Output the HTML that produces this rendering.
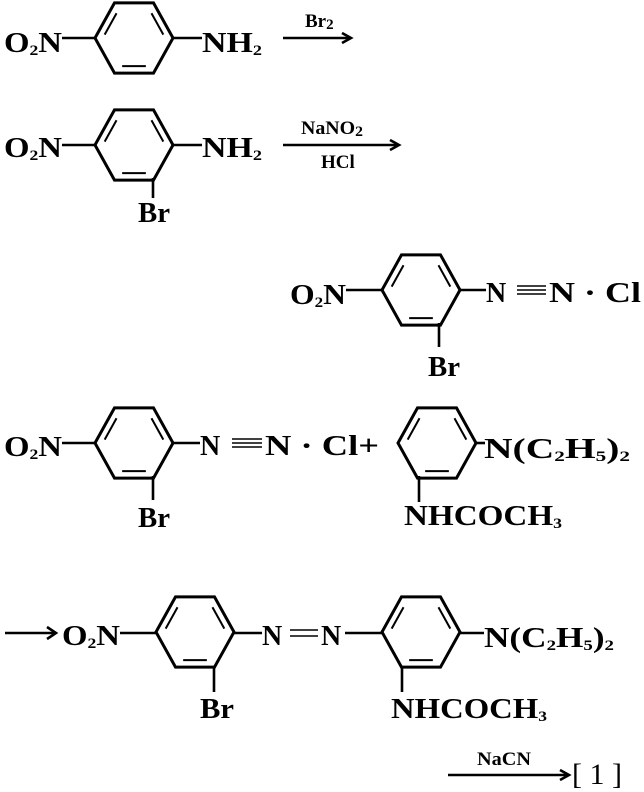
<!DOCTYPE html>
<html><head><meta charset="utf-8"><style>
html,body{margin:0;padding:0;background:#fff;}
svg{display:block;}
text{font-family:"Liberation Serif",serif;font-weight:bold;fill:#000;font-size:28px;}
.s{font-size:15px;}
.m{font-size:19px;}
</style></head><body>
<svg width="644" height="792" viewBox="0 0 644 792" xmlns="http://www.w3.org/2000/svg" id="sv">
<g stroke="#000" stroke-width="3" fill="none" id="rings"></g>
<g stroke="#000" stroke-width="2.6" fill="none">
<line x1="62" y1="38" x2="96" y2="38"/><line x1="172" y1="38" x2="202" y2="38"/>
<line x1="283" y1="38" x2="350" y2="38"/><polyline points="342,33 351,38 342,43"/>
<line x1="62" y1="145" x2="96" y2="145"/><line x1="172" y1="145" x2="202" y2="145"/>
<line x1="153" y1="178" x2="153" y2="198"/>
<line x1="283" y1="145" x2="398" y2="145"/><polyline points="390,140 399,145 390,150"/>
<line x1="346" y1="290" x2="382" y2="290"/><line x1="460" y1="290" x2="486" y2="290"/>
<line x1="439" y1="323" x2="439" y2="347"/>
<line x1="62" y1="443" x2="96" y2="443"/><line x1="172" y1="443" x2="200" y2="443"/>
<line x1="153" y1="476" x2="153" y2="500"/>
<line x1="476" y1="443" x2="485" y2="443"/>
<line x1="419" y1="476" x2="419" y2="502"/>
<line x1="5" y1="633" x2="55" y2="633"/><polyline points="47,627 56,633 47,639"/>
<line x1="120" y1="633" x2="156" y2="633"/><line x1="234" y1="633" x2="262" y2="633"/>
<line x1="345" y1="633" x2="383" y2="633"/><line x1="460" y1="633" x2="484" y2="633"/>
<line x1="214" y1="666" x2="214" y2="692"/>
<line x1="402" y1="666" x2="402" y2="692"/>
<line x1="448" y1="775" x2="568" y2="775"/><polyline points="560,770 569,775 560,780"/>
</g>
<g stroke="#000" stroke-width="1.6">
<line x1="517" y1="286" x2="546" y2="286"/><line x1="517" y1="290" x2="546" y2="290"/><line x1="517" y1="294" x2="546" y2="294"/>
<line x1="232" y1="439" x2="262" y2="439"/><line x1="232" y1="443" x2="262" y2="443"/><line x1="232" y1="447" x2="262" y2="447"/>
<line x1="290" y1="630" x2="318" y2="630"/><line x1="290" y1="636" x2="318" y2="636"/>
</g>
<text x="4" y="52" textLength="58" lengthAdjust="spacingAndGlyphs">O<tspan class="s" dy="3">2</tspan><tspan dy="-3">N</tspan></text>
<text x="202" y="52" textLength="60" lengthAdjust="spacingAndGlyphs">NH<tspan class="s" dy="3">2</tspan></text>
<text x="305" y="27" class="m">Br<tspan class="s" dy="2">2</tspan></text>

<text x="4" y="157" textLength="58" lengthAdjust="spacingAndGlyphs">O<tspan class="s" dy="3">2</tspan><tspan dy="-3">N</tspan></text>
<text x="202" y="157" textLength="60" lengthAdjust="spacingAndGlyphs">NH<tspan class="s" dy="3">2</tspan></text>
<text x="138" y="222" textLength="32" lengthAdjust="spacingAndGlyphs">Br</text>
<text x="301" y="134" class="m" textLength="62" lengthAdjust="spacingAndGlyphs">NaNO<tspan class="s" dy="2">2</tspan></text>
<text x="321" y="168" class="m">HCl</text>

<text x="290" y="304" textLength="56" lengthAdjust="spacingAndGlyphs">O<tspan class="s" dy="3">2</tspan><tspan dy="-3">N</tspan></text>
<text x="486" y="302">N</text>
<text x="549" y="302" textLength="92" lengthAdjust="spacingAndGlyphs">N · Cl</text>
<text x="428" y="376" textLength="32" lengthAdjust="spacingAndGlyphs">Br</text>

<text x="4" y="456" textLength="58" lengthAdjust="spacingAndGlyphs">O<tspan class="s" dy="3">2</tspan><tspan dy="-3">N</tspan></text>
<text x="200" y="455">N</text>
<text x="265" y="455" textLength="114" lengthAdjust="spacingAndGlyphs">N · Cl+</text>
<text x="138" y="527" textLength="32" lengthAdjust="spacingAndGlyphs">Br</text>
<text x="484" y="458" textLength="146" lengthAdjust="spacingAndGlyphs">N(C<tspan class="s" dy="3">2</tspan><tspan dy="-3">H</tspan><tspan class="s" dy="3">5</tspan><tspan dy="-3">)</tspan><tspan class="s" dy="3">2</tspan></text>
<text x="404" y="525" textLength="158" lengthAdjust="spacingAndGlyphs">NHCOCH<tspan class="s" dy="3">3</tspan></text>

<text x="62" y="645" textLength="58" lengthAdjust="spacingAndGlyphs">O<tspan class="s" dy="3">2</tspan><tspan dy="-3">N</tspan></text>
<text x="262" y="645">N</text>
<text x="321" y="645">N</text>
<text x="484" y="647" textLength="130" lengthAdjust="spacingAndGlyphs">N(C<tspan class="s" dy="3">2</tspan><tspan dy="-3">H</tspan><tspan class="s" dy="3">5</tspan><tspan dy="-3">)</tspan><tspan class="s" dy="3">2</tspan></text>
<text x="200" y="718" textLength="34" lengthAdjust="spacingAndGlyphs">Br</text>
<text x="391" y="718" textLength="156" lengthAdjust="spacingAndGlyphs">NHCOCH<tspan class="s" dy="3">3</tspan></text>
<text x="477" y="765" class="m" textLength="54" lengthAdjust="spacingAndGlyphs">NaCN</text>
<text x="572" y="784" style="font-weight:normal;font-size:30px" textLength="50" lengthAdjust="spacingAndGlyphs">[ 1 ]</text>
</svg>
<script>
var centers=[[134,38],[134,145],[421,290],[134,443],[437,443],[195,632],[421,632]];
var g=document.getElementById('rings');var NS='http://www.w3.org/2000/svg';
var r=39;
centers.forEach(function(c){
 var pts=[];
 for(var i=0;i<6;i++){var a=Math.PI/180*(60*i);pts.push([c[0]+r*Math.cos(a),c[1]+r*Math.sin(a)*1.04]);}
 var p=document.createElementNS(NS,'polygon');
 p.setAttribute('points',pts.map(function(q){return q.join(',')}).join(' '));g.appendChild(p);
 [[3,4],[5,0],[1,2]].forEach(function(e){
  var A=pts[e[0]],B=pts[e[1]];
  var f=0.8,s=0.12;
  var a=[A[0]+(c[0]-A[0])*(1-f),A[1]+(c[1]-A[1])*(1-f)],b=[B[0]+(c[0]-B[0])*(1-f),B[1]+(c[1]-B[1])*(1-f)];
  var x1=a[0]+(b[0]-a[0])*s,y1=a[1]+(b[1]-a[1])*s,x2=b[0]-(b[0]-a[0])*s,y2=b[1]-(b[1]-a[1])*s;
  var l=document.createElementNS(NS,'line');
  l.setAttribute('x1',x1);l.setAttribute('y1',y1);l.setAttribute('x2',x2);l.setAttribute('y2',y2);
  l.setAttribute('stroke-width','2');g.appendChild(l);
 });
});
</script>
</body></html>
